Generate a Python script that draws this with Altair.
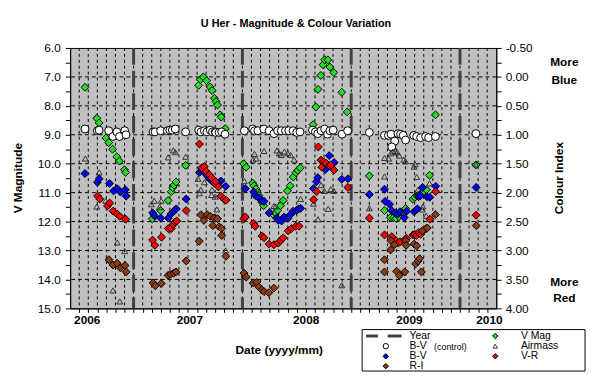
import altair as alt
import pandas as pd

FONT = "Liberation Sans"

# ---------------- data (decimal year, value) ----------------
vmag_t = [2006.553, 2006.662, 2006.683, 2006.746, 2006.771, 2006.807, 2006.846, 2006.870, 2006.916, 2006.927,
          2007.172, 2007.249, 2007.317, 2007.347, 2007.360, 2007.372, 2007.390, 2007.478,
          2007.598, 2007.614, 2007.641, 2007.671, 2007.704, 2007.721, 2007.743, 2007.757, 2007.771, 2007.795, 2007.805, 2007.843,
          2008.013, 2008.034, 2008.094, 2008.108, 2008.124, 2008.136, 2008.151, 2008.163, 2008.179, 2008.195,
          2008.287, 2008.306, 2008.324, 2008.351, 2008.374, 2008.414, 2008.439, 2008.467, 2008.491, 2008.510, 2008.532,
          2008.650, 2008.675, 2008.695, 2008.721, 2008.741, 2008.756, 2008.786, 2008.804, 2008.840, 2008.913, 2008.963,
          2009.167, 2009.306, 2009.359, 2009.387, 2009.412, 2009.439, 2009.484, 2009.500, 2009.568, 2009.584, 2009.607,
          2009.620, 2009.654, 2009.691, 2009.720, 2009.774, 2010.146]
vmag_v = [7.36, 8.43, 8.59, 9.11, 9.27, 9.50, 9.76, 9.91, 10.21, 10.30,
          11.91, 11.62, 11.27, 10.97, 10.83, 10.74, 10.63, 10.06,
          7.29, 7.09, 7.00, 7.13, 7.35, 7.47, 7.74, 7.85, 7.97, 8.31, 8.39, 8.79,
          10.00, 10.12, 10.67, 10.76, 10.87, 10.99, 11.10, 11.20, 11.33, 11.45,
          11.77, 11.70, 11.61, 11.45, 11.27, 10.94, 10.76, 10.46, 10.31, 10.23, 10.14,
          8.65, 8.04, 7.43, 6.95, 6.58, 6.41, 6.41, 6.66, 6.85, 7.53, 8.21,
          10.42, 11.62, 11.86, 11.87, 11.89, 11.83, 11.72, 11.55, 11.23, 11.16, 11.11,
          11.10, 11.00, 10.90, 10.40, 8.31, 10.04]

ctrl_t = [2006.553, 2006.667, 2006.683, 2006.771, 2006.810, 2006.846, 2006.870, 2006.918, 2006.930,
          2007.179, 2007.197, 2007.248, 2007.311, 2007.333, 2007.356, 2007.383, 2007.478,
          2007.598, 2007.619, 2007.650, 2007.674, 2007.704, 2007.725, 2007.750, 2007.755, 2007.786, 2007.810, 2007.840,
          2008.018, 2008.094, 2008.112, 2008.142, 2008.197, 2008.245, 2008.290, 2008.324, 2008.357, 2008.396,
          2008.426, 2008.466, 2008.499, 2008.529,
          2008.644, 2008.671, 2008.693, 2008.723, 2008.756, 2008.783, 2008.804, 2008.834, 2008.916, 2008.967,
          2009.167, 2009.306, 2009.342, 2009.366, 2009.400, 2009.373, 2009.430, 2009.454, 2009.478, 2009.500,
          2009.575, 2009.602, 2009.638, 2009.684, 2009.711, 2009.774, 2010.146]
ctrl_ci = [0.90, 0.93, 0.92, 0.93, 1.03, 0.95, 1.03, 0.93, 1.00,
           0.95, 0.95, 0.93, 0.93, 0.92, 0.92, 0.90, 0.95,
           0.92, 0.95, 0.93, 0.95, 0.92, 0.95, 0.95, 0.96, 0.96, 0.95, 0.99,
           0.93, 0.90, 0.93, 0.93, 0.90, 0.93, 0.98, 0.93, 0.93, 0.93,
           0.93, 0.93, 0.96, 0.95,
           0.92, 0.95, 0.98, 0.93, 0.90, 0.99, 0.93, 0.92, 0.99, 0.93,
           0.96, 1.01, 1.01, 0.99, 1.11, 1.21, 0.98, 0.99, 1.01, 1.09,
           1.01, 1.03, 1.05, 1.03, 1.05, 1.03, 0.98]

air_t = [2006.556, 2006.683, 2006.662, 2006.743, 2006.849, 2006.918, 2006.810, 2006.873,
         2007.163, 2007.190, 2007.238, 2007.254, 2007.317, 2007.365, 2007.383, 2007.478,
         2007.592, 2007.617, 2007.650, 2007.605, 2007.716, 2007.750, 2007.721, 2007.766, 2007.846,
         2008.018, 2008.111, 2008.127, 2008.097, 2008.199, 2008.290, 2008.317, 2008.339, 2008.357, 2008.387,
         2008.417, 2008.444, 2008.475, 2008.260, 2008.306,
         2008.535, 2008.653, 2008.695, 2008.723, 2008.753, 2008.813, 2008.840, 2008.789, 2008.913,
         2009.167, 2009.306, 2009.306, 2009.345, 2009.366, 2009.382, 2009.403, 2009.422, 2009.442, 2009.484,
         2009.500, 2009.578, 2009.588, 2009.602, 2009.614, 2009.659, 2009.654, 2009.690, 2009.720, 2010.146]
air_ci = [1.41, 1.65, 2.24, 2.14, 2.86, 3.01, 3.69, 3.88,
          2.20, 2.14, 2.25, 2.14, 1.39, 1.27, 1.30, 1.38,
          1.76, 1.95, 1.82, 2.01, 2.04, 2.07, 1.95, 2.29, 3.00,
          1.80, 1.33, 1.41, 1.43, 1.28, 2.23, 1.27, 1.32, 1.35, 1.29,
          1.32, 1.35, 1.43, 2.33, 2.24,
          2.11, 2.19, 2.46, 1.87, 1.97, 1.94, 1.97, 2.28, 3.60,
          2.27, 1.40, 1.72, 1.41, 1.32, 1.29, 1.28, 1.30, 1.36, 1.43,
          1.46, 1.55, 1.51, 1.73, 1.95, 2.24, 2.29, 2.40, 1.84, 1.51]

bv_t = [2006.553, 2006.667, 2006.683, 2006.778, 2006.816, 2006.849, 2006.879, 2006.923, 2006.932,
        2007.175, 2007.192, 2007.249, 2007.319, 2007.343, 2007.360, 2007.374, 2007.392, 2007.483,
        2007.605, 2007.626, 2007.650, 2007.671, 2007.694, 2007.719, 2007.746, 2007.771, 2007.801, 2007.846,
        2008.027, 2008.103, 2008.118, 2008.149, 2008.179, 2008.199, 2008.245, 2008.315, 2008.330, 2008.360,
        2008.384, 2008.421, 2008.442, 2008.466, 2008.496, 2008.517, 2008.535,
        2008.653, 2008.680, 2008.693, 2008.723, 2008.762, 2008.798, 2008.843, 2008.913, 2008.970,
        2009.167, 2009.306, 2009.312, 2009.353, 2009.373, 2009.403, 2009.427, 2009.448, 2009.487, 2009.509,
        2009.578, 2009.595, 2009.608, 2009.620, 2009.638, 2009.656, 2009.697, 2009.722, 2009.777, 2010.148]
bv_ci = [1.67, 1.82, 1.76, 1.84, 1.97, 1.93, 1.99, 1.95, 2.06,
         2.35, 2.40, 2.44, 2.44, 2.37, 2.34, 2.31, 2.28, 2.11,
         1.65, 1.62, 1.64, 1.70, 1.75, 1.80, 1.84, 1.84, 1.80, 1.89,
         1.93, 1.99, 2.05, 2.09, 2.14, 2.15, 2.35, 2.44, 2.48, 2.49,
         2.42, 2.44, 2.38, 2.32, 2.31, 2.28, 2.27,
         1.93, 1.81, 1.74, 1.44, 1.60, 1.36, 1.48, 1.77, 1.76,
         2.03, 1.94, 2.15, 2.20, 2.31, 2.35, 2.37, 2.33, 2.43, 2.32,
         2.33, 2.30, 2.28, 2.07, 2.05, 1.91, 2.07, 2.08, 1.89, 1.91]

vr_t = [2006.669, 2006.689, 2006.760, 2006.780, 2006.812, 2006.849, 2006.873, 2006.927,
        2007.174, 2007.195, 2007.257, 2007.319, 2007.347, 2007.364, 2007.381, 2007.396, 2007.483,
        2007.605, 2007.626, 2007.650, 2007.665, 2007.695, 2007.716, 2007.741, 2007.755, 2007.780, 2007.802,
        2007.831, 2007.850,
        2008.013, 2008.027, 2008.103, 2008.118, 2008.179, 2008.199, 2008.245, 2008.290, 2008.330, 2008.351,
        2008.375, 2008.421, 2008.451, 2008.490, 2008.520,
        2008.655, 2008.682, 2008.698, 2008.723, 2008.729, 2008.747, 2008.768, 2008.798, 2008.813, 2008.843, 2008.970,
        2009.167, 2009.306, 2009.373, 2009.412, 2009.432, 2009.448, 2009.493, 2009.509, 2009.568, 2009.584,
        2009.602, 2009.620, 2009.638, 2009.659, 2009.690, 2009.724, 2009.777, 2010.148]
vr_ci = [2.06, 2.11, 2.23, 2.18, 2.32, 2.37, 2.41, 2.46,
         2.82, 2.91, 2.77, 2.62, 2.62, 2.55, 2.51, 2.49, 2.31,
         1.16, 1.57, 1.55, 1.63, 1.69, 1.74, 1.83, 1.81, 1.90, 2.06,
         2.11, 2.13,
         2.45, 2.42, 2.53, 2.58, 2.75, 2.78, 2.89, 2.90, 2.87, 2.83,
         2.78, 2.66, 2.62, 2.58, 2.58,
         2.12, 1.98, 1.21, 1.44, 1.56, 1.47, 1.49, 1.53, 1.52, 1.61, 1.91,
         2.44, 2.73, 2.76, 2.83, 2.87, 2.85, 2.81, 2.79, 2.73, 2.72,
         2.74, 2.69, 2.72, 2.66, 2.62, 2.46, 1.98, 2.39]

ri_t = [2006.773, 2006.811, 2006.849, 2006.879, 2006.921, 2006.932,
        2007.179, 2007.199, 2007.254, 2007.317, 2007.340, 2007.369, 2007.390, 2007.483,
        2007.603, 2007.619, 2007.646, 2007.675, 2007.704, 2007.728, 2007.741, 2007.771, 2007.786, 2007.809,
        2007.810, 2007.848,
        2008.014, 2008.035, 2008.099, 2008.131, 2008.151, 2008.179, 2008.199, 2008.242, 2008.290,
        2009.306, 2009.306, 2009.362, 2009.366, 2009.396, 2009.418, 2009.442, 2009.493, 2009.502, 2009.505,
        2009.578, 2009.593, 2009.602, 2009.614, 2009.629, 2009.645, 2009.654, 2009.699, 2009.774, 2010.149]
ri_ci = [3.16, 3.25, 3.22, 3.30, 3.26, 3.37,
         3.56, 3.61, 3.57, 3.43, 3.41, 3.39, 3.37, 3.18,
         2.84, 2.38, 2.48, 2.38, 2.41, 2.57, 2.44, 2.45, 2.59, 2.62,
         2.74, 3.10,
         3.39, 3.46, 3.56, 3.55, 3.63, 3.68, 3.71, 3.73, 3.65,
         3.16, 3.37, 2.99, 2.83, 2.90, 3.36, 3.43, 3.37, 2.83, 2.91,
         2.89, 3.23, 2.92, 3.18, 3.14, 3.37, 2.66, 2.61, 2.38, 2.57]

year_lines = [2007, 2008, 2009, 2010]
year_label_pos = [2006.574, 2007.517, 2008.586, 2009.535, 2010.27]
year_label_txt = ["2006", "2007", "2008", "2009", "2010"]
hgrid_v = [7, 8, 9, 10, 11, 12, 13, 14]
months = [round(2006 + m / 12, 4) for m in range(6, 52)]

# ---------------- scales & axes ----------------
W, H = 432, 264
xs = alt.Scale(domain=[2006.4167, 2010.3333], nice=False, zero=False)
yl = alt.Scale(domain=[6, 15], reverse=True, nice=False, zero=False)
yr = alt.Scale(domain=[-0.5, 4.0], reverse=True, nice=False, zero=False)

x_axis = alt.Axis(values=months, labels=False, title=None, grid=False, tickSize=4,
                  tickColor="black", domainColor="black")
yl_axis = alt.Axis(values=[6 + 0.5 * i for i in range(19)],
                   labelExpr="datum.value % 1 == 0 ? format(datum.value, '.1f') : ''",
                   title=None, grid=False, tickSize=5, tickColor="black", domainColor="black",
                   labelFont=FONT, labelFontSize=12, labelColor="black", labelPadding=5,
                   labelFlush=False, labelOverlap=False)
yr_axis = alt.Axis(orient="right", values=[-0.5 + 0.25 * i for i in range(19)],
                   labelExpr="abs(datum.value*2 - round(datum.value*2)) < 0.01 ? "
                             "(datum.value < 0 ? '-' : '') + format(abs(datum.value), '.2f') : ''",
                   title=None, grid=False, tickSize=5, tickColor="black", domainColor="black",
                   labelFont=FONT, labelFontSize=12, labelColor="black", labelPadding=4,
                   labelFlush=False, labelOverlap=False)

X = lambda f="t": alt.X(f + ":Q", scale=xs, axis=x_axis)

one = pd.DataFrame({"k": [0]})


def txt(s, x, y, size=12, bold=True, angle=0, align="center"):
    return alt.Chart(one).mark_text(
        text=s, fontSize=size, fontWeight="bold" if bold else "normal", font=FONT,
        angle=angle, align=align, baseline="middle", color="black"
    ).encode(x=alt.value(x), y=alt.value(y))


# ---------------- left-axis group ----------------
vgrid = alt.Chart(pd.DataFrame({"t": months})).mark_rule(
    color="black", strokeWidth=1, strokeDash=[3, 3]).encode(x=X())
hgrid = alt.Chart(pd.DataFrame({"v": hgrid_v})).mark_rule(
    color="black", strokeWidth=1, strokeDash=[4, 3]).encode(y=alt.Y("v:Q", scale=yl, axis=yl_axis))
ylines = alt.Chart(pd.DataFrame({"t": year_lines})).mark_rule(
    color="#404040", strokeWidth=3, strokeDash=[17, 6]).encode(x=X())
vmag = alt.Chart(pd.DataFrame({"t": vmag_t, "v": vmag_v})).mark_point(
    shape="diamond", filled=True, fill="#22dd22", stroke="black", strokeWidth=1, size=64, opacity=1
).encode(x=X(), y=alt.Y("v:Q", scale=yl, axis=yl_axis))

year_labels = alt.Chart(pd.DataFrame({"t": year_label_pos, "lab": year_label_txt})).mark_text(
    font=FONT, fontSize=12, fontWeight="bold", color="black", baseline="middle"
).encode(x=X(), y=alt.value(H + 12), text="lab:N")

texts = [
    txt("U Her - Magnitude & Colour Variation", 229, -24, size=11),
    txt("V Magnitude", -53, 132, angle=270),
    txt("Colour Index", 496, 132, angle=270),
    txt("More", 501, 14), txt("Blue", 501, 33),
    txt("More", 501, 237), txt("Red", 501, 254),
    txt("Date (yyyy/mm)", 212, 306),
]

# legend (drawn manually)
LX1, LX2 = 320, 431
LT1, LT2 = 344, 457
LF = 10.5
R = [292, 302.3, 312.6, 322.6]
leg_box = alt.Chart(one).mark_rect(fill="white", stroke="black", strokeWidth=1).encode(
    x=alt.value(296), x2=alt.value(522), y=alt.value(285.5), y2=alt.value(327.5))
leg_year1 = alt.Chart(one).mark_rule(color="#404040", strokeWidth=3).encode(
    x=alt.value(300), x2=alt.value(312), y=alt.value(R[0]))
leg_year2 = alt.Chart(one).mark_rule(color="#404040", strokeWidth=3).encode(
    x=alt.value(322), x2=alt.value(336), y=alt.value(R[0]))


def leg_sym(x, y, shape, fill, stroke="black", filled=True, size=30):
    return alt.Chart(one).mark_point(shape=shape, filled=filled, fill=fill if filled else None,
                                     stroke=stroke, strokeWidth=1, size=size, opacity=1).encode(
        x=alt.value(x), y=alt.value(y))


legend = [
    leg_box, leg_year1, leg_year2,
    txt("Year", LT1, R[0], size=LF, bold=False, align="left"),
    leg_sym(LX2, R[0], "diamond", "#22dd22"),
    txt("V Mag", LT2, R[0], size=LF, bold=False, align="left"),
    leg_sym(LX1, R[1], "circle", "white"),
    txt("B-V", LT1, R[1], size=LF, bold=False, align="left"),
    txt("(control)", LT1 + 25, R[1] + 0.5, size=9, bold=False, align="left"),
    alt.Chart(one).mark_point(shape="triangle-up", filled=False, stroke="#404040", strokeWidth=1,
                              size=22, opacity=1).encode(x=alt.value(LX2), y=alt.value(R[1])),
    txt("Airmass", LT2, R[1], size=LF, bold=False, align="left"),
    leg_sym(LX1, R[2], "diamond", "#0000ff"),
    txt("B-V", LT1, R[2], size=LF, bold=False, align="left"),
    leg_sym(LX2, R[2], "diamond", "#ff0000"),
    txt("V-R", LT2, R[2], size=LF, bold=False, align="left"),
    leg_sym(LX1, R[3], "diamond", "#8f3a10"),
    txt("R-I", LT1, R[3], size=LF, bold=False, align="left"),
]

left = alt.layer(vgrid, hgrid, ylines, vmag, year_labels, *texts, *legend)

# ---------------- right-axis group ----------------
Yr = alt.Y("ci:Q", scale=yr, axis=yr_axis)
ctrl = alt.Chart(pd.DataFrame({"t": ctrl_t, "ci": ctrl_ci})).mark_point(
    shape="circle", filled=True, fill="white", stroke="black", strokeWidth=1, size=64, opacity=1
).encode(x=X(), y=Yr)
air = alt.Chart(pd.DataFrame({"t": air_t, "ci": air_ci})).mark_point(
    shape="triangle-up", filled=False, stroke="#333333", strokeWidth=1, size=36, opacity=1
).encode(x=X(), y=Yr)
bv = alt.Chart(pd.DataFrame({"t": bv_t, "ci": bv_ci})).mark_point(
    shape="diamond", filled=True, fill="#0000ff", stroke="black", strokeWidth=1, size=64, opacity=1
).encode(x=X(), y=Yr)
vr = alt.Chart(pd.DataFrame({"t": vr_t, "ci": vr_ci})).mark_point(
    shape="diamond", filled=True, fill="#ff0000", stroke="black", strokeWidth=1, size=64, opacity=1
).encode(x=X(), y=Yr)
ri = alt.Chart(pd.DataFrame({"t": ri_t, "ci": ri_ci})).mark_point(
    shape="diamond", filled=True, fill="#8f3a10", stroke="black", strokeWidth=1, size=64, opacity=1
).encode(x=X(), y=Yr)

right = alt.layer(ctrl, air, bv, vr, ri)

chart = alt.layer(left, right).resolve_scale(y="independent").properties(
    width=W, height=H,
    autosize=alt.AutoSizeParams(type="none"),
    padding={"left": 63, "top": 38, "right": 93, "bottom": 64},
    background="white",
).configure_view(fill="#c0c0c0", stroke="black", strokeWidth=1)

chart.save("out.html", embed_options={"renderer": "svg", "actions": False})
